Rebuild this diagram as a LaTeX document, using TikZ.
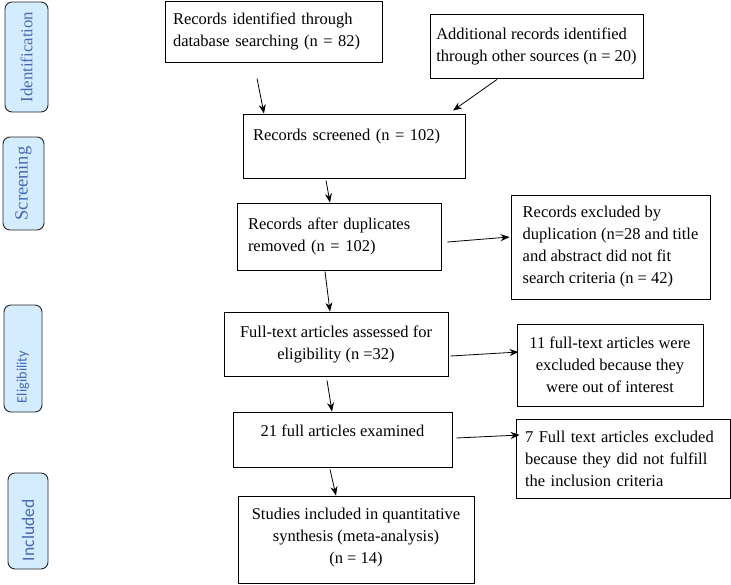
\documentclass[tikz,border=0pt]{standalone}
\usepackage{fontspec}
\setmainfont{Liberation Serif}
\newfontfamily\calibrifont{Carlito}
\usetikzlibrary{arrows.meta,calc}

\definecolor{phasefill}{RGB}{212,236,255}
\definecolor{phasetext}{RGB}{70,105,180}

\tikzset{
  box/.style={draw, line width=0.9pt, inner sep=0pt, font=\fontsize{16.5}{22}\selectfont},
  phase/.style={draw=black!85, fill=phasefill, text=phasetext, rounded corners=7pt,
    rotate=90, line width=0.9pt, inner sep=0pt},
  arr/.style={line width=0.8pt, -{Stealth[length=9pt,width=7pt]}},
}

\begin{document}
\begin{tikzpicture}[x=1pt,y=-1pt]
\useasboundingbox (0,0) rectangle (731,584);

% phases
\node[phase, minimum width=110pt, minimum height=43pt, font=\fontsize{16.8}{20}\selectfont] (idphase) at (26.5,57) {Identification};
\node[phase, minimum width=93pt, minimum height=41pt, font=\fontsize{18.5}{20}\selectfont] (scphase) at (23.5,183.5) {Screening};
\node[phase, minimum width=107pt, minimum height=38pt, text width=89pt, align=left, font=\calibrifont\fontsize{14.3}{17}\selectfont] (elphase) at (23,358.5) {Eligibility};
\node[phase, minimum width=96pt, minimum height=40pt, text width=80pt, align=left, font=\calibrifont\fontsize{17.6}{20}\selectfont] (inphase) at (28,521) {Included};

% boxes
\node[box, minimum width=217pt, minimum height=61pt, text width=201pt, align=left] (ident) at (273.5,31.5) {Records identified through\\database searching (n = 82)};
\node[box, minimum width=213pt, minimum height=64pt, align=left] (other) at (536.5,46) {Additional records identified\\through other sources (n = 20)};
\node[box, minimum width=222pt, minimum height=64pt, text width=202pt, align=left] (screened) at (354,146) {Records screened (n = 102)\\~};
\node[box, minimum width=204pt, minimum height=67pt, text width=182pt, align=left] (dedup) at (339,236.5) {Records after duplicates\\removed (n = 102)};
\node[box, minimum width=199pt, minimum height=104pt, align=left] (excldup) at (610.5,247) {Records excluded by\\duplication (n=28 and title\\and abstract did not fit\\search criteria (n = 42)};
\node[box, minimum width=224pt, minimum height=64pt, align=center] (fulltext) at (336,344) {Full-text articles assessed for\\eligibility (n =32)};
\node[box, minimum width=186pt, minimum height=82pt, align=center] (exclint) at (610,365) {11 full-text articles were\\excluded because they\\were out of interest};
\node[box, minimum width=219pt, minimum height=55pt, align=center, text depth=17pt] (examined) at (342.5,439.5) {21 full articles examined};
\node[box, minimum width=214pt, minimum height=79pt, text width=196pt, align=left] (exclcrit) at (623,458.5) {7 Full text articles excluded\\because they did not fulfill\\the inclusion criteria};
\node[box, minimum width=236pt, minimum height=87pt, align=center, text depth=8pt] (studies) at (356,539.5) {Studies included in quantitative\\synthesis (meta-analysis)\\(n = 14)};

% arrows
\draw[arr] ($(ident.south)+(-16.5,16)$) -- ($(screened.north)+(-90,0)$);
\draw[arr] ($(other.south)+(-39.5,1)$) -- ($(screened.north)+(99,-3)$);
\draw[arr] ($(screened.south)+(-28,2)$) -- ($(dedup.north)+(-9,0)$);
\draw[arr] ($(dedup.east)+(6,5.5)$) -- ($(excldup.west)+(-1,-10)$);
\draw[arr] ($(dedup.south)+(-14,1)$) -- ($(fulltext.north)+(-6,0)$);
\draw[arr] ($(fulltext.east)+(2,12)$) -- ($(exclint.west)+(2,-13)$);
\draw[arr] ($(fulltext.south)+(-9,4)$) -- ($(examined.north)+(-10.5,0)$);
\draw[arr] ($(examined.east)+(4,-1.5)$) -- ($(exclcrit.west)+(4,-23.5)$);
\draw[arr] ($(examined.south)+(-12.5,2)$) -- ($(studies.north)+(-20,0)$);
\end{tikzpicture}
\end{document}
